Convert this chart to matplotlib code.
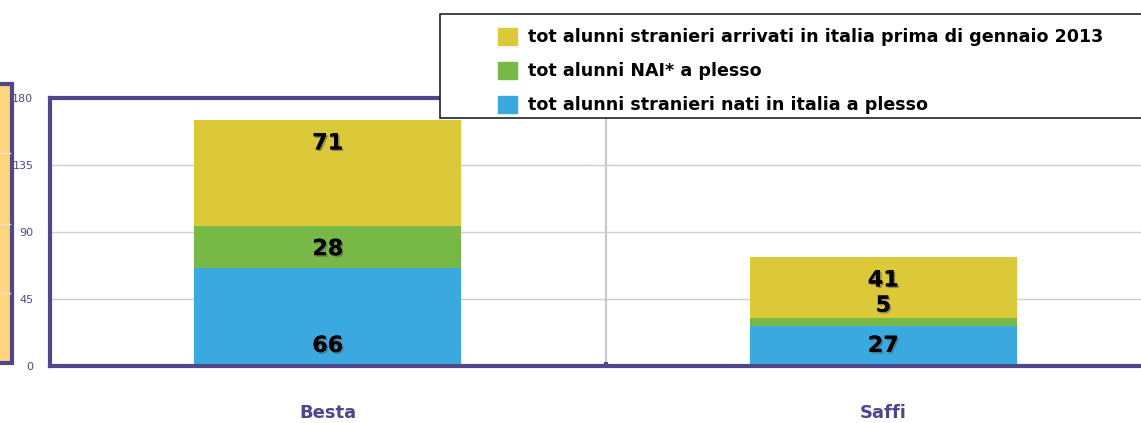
"""Alunni stranieri per plesso — stacked bars Besta / Saffi."""
import matplotlib.pyplot as plt
import matplotlib.patheffects as pe
import numpy as np
from matplotlib.patches import Patch, Rectangle

categories = ["Besta", "Saffi"]
nati_italia = [66, 27]        # tot alunni stranieri nati in italia a plesso
nai = [28, 5]                 # tot alunni NAI* a plesso
arrivati_prima = [71, 41]     # tot alunni stranieri arrivati in italia prima di gennaio 2013
yticks = [0, 45, 90, 135, 180]

labels = ["tot alunni stranieri arrivati in italia prima di gennaio 2013",
          "tot alunni NAI* a plesso",
          "tot alunni stranieri nati in italia a plesso"]

PURPLE = "#4f478a"
YELLOW = "#dcc93a"
GREEN = "#78b846"
BLUE = "#3aa9df"

W, H = 1141, 423
fig = plt.figure(figsize=(W / 100, H / 100), dpi=100)


def fx(px):
    return px / W


def fy(py):
    return 1 - py / H


ax = fig.add_axes([fx(50), fy(366), fx(1161) - fx(50), fy(98) - fy(366)])

x = np.arange(len(categories))
w = 0.48
b1 = np.array(nati_italia)
b2 = b1 + np.array(nai)
ax.bar(x, nati_italia, w, color=BLUE, zorder=2)
ax.bar(x, nai, w, bottom=b1, color=GREEN, zorder=2)
ax.bar(x, arrivati_prima, w, bottom=b2, color=YELLOW, zorder=2)

# value labels (shadowed, like the original)
shadow = [pe.withSimplePatchShadow(offset=(1.2, -1.2), shadow_rgbFace="0.3", alpha=0.5), pe.Normal()]
tfont = dict(ha="center", va="center", fontsize=16, fontweight="bold", color="black",
             zorder=4, path_effects=shadow)
for i in x:
    y_blue = 13.5
    y_green = max(b1[i] + nai[i] / 2 - 1.5, y_blue + 27)
    y_yellow = b2[i] + arrivati_prima[i] - 15.5
    ax.text(i, y_blue, str(nati_italia[i]), **tfont)
    ax.text(i, y_green, str(nai[i]), **tfont)
    ax.text(i, y_yellow, str(arrivati_prima[i]), **tfont)

ax.set_xlim(-0.5, 1.5)
ax.set_ylim(0, 180)
ax.set_yticks(yticks)
ax.set_xticks(x)
ax.set_xticklabels(categories, fontsize=13, fontweight="bold", color=PURPLE)
ax.tick_params(axis="x", length=0, pad=27)
ax.tick_params(axis="y", length=0, pad=12, labelsize=8, labelcolor=PURPLE)
ax.set_xticks([0.5], minor=True)
ax.tick_params(axis="x", which="minor", direction="in", length=3, width=3, color=PURPLE)

for v in yticks[1:-1]:
    ax.axhline(v, color="#d3cfc8", lw=1, zorder=1)
ax.axvline(0.5, color="#c9c9c9", lw=1.6, zorder=1)

for s in ("left", "bottom", "top"):
    ax.spines[s].set_color(PURPLE)
    ax.spines[s].set_linewidth(3)
ax.spines["right"].set_visible(False)

# clipped side box on the far left
fig.patches.append(Rectangle((fx(-30), fy(363)), fx(42), fy(84) - fy(363),
                             transform=fig.transFigure, facecolor="#ffd57e",
                             edgecolor=PURPLE, lw=3, zorder=3))
for py in (153, 224, 293):
    fig.lines.append(plt.Line2D([0, fx(10)], [fy(py), fy(py)], transform=fig.transFigure,
                                color="#e9e2cf", lw=1, zorder=4))

# legend box (runs off the right edge)
fig.patches.append(Rectangle((fx(440), fy(118)), fx(760), fy(14) - fy(118),
                             transform=fig.transFigure, facecolor="white",
                             edgecolor="#222222", lw=1.2, zorder=5))
handles = [Patch(color=c) for c in (YELLOW, GREEN, BLUE)]
leg = fig.legend(handles, labels, loc="upper left", bbox_to_anchor=(fx(482), fy(12)),
                 frameon=False, handlelength=1.1, handleheight=1.1, handletextpad=0.6,
                 labelspacing=0.9, prop=dict(size=12.6, weight="bold"))
leg.set_zorder(6)

fig.savefig("out.png", dpi=100)
